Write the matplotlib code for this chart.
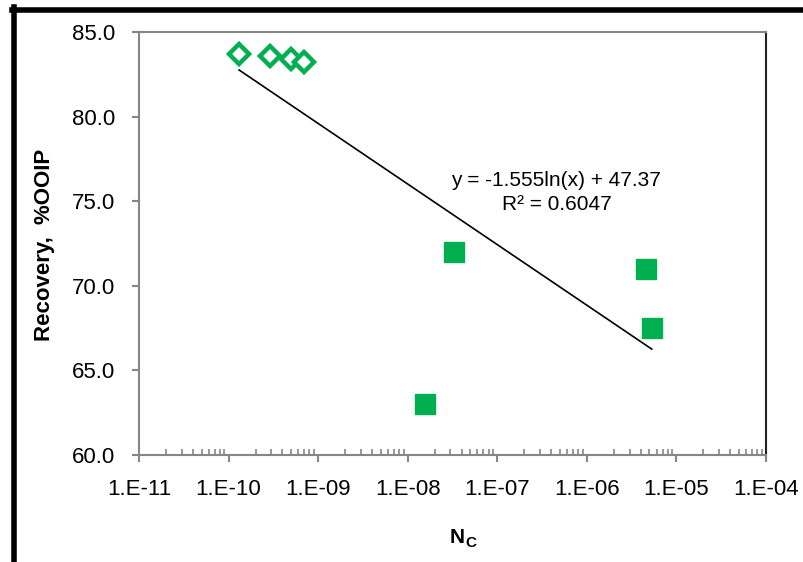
import numpy as np
import matplotlib
matplotlib.use("Agg")
import matplotlib.pyplot as plt
from matplotlib.lines import Line2D
from matplotlib.ticker import LogLocator, FixedLocator

plt.rcParams["font.family"] = ["Liberation Sans", "DejaVu Sans"]

# Open diamonds (low capillary number runs)
nc_open = [1.31e-10, 2.9e-10, 4.97e-10, 6.95e-10]
rec_open = [83.7, 83.6, 83.4, 83.2]

# Filled squares
nc_filled = [3.28e-8, 1.56e-8, 4.55e-6, 5.3e-6]
rec_filled = [72.0, 63.0, 71.0, 67.5]

# Log trendline fitted through all points
slope, intercept = -1.555, 47.37
r2 = 0.6047

y_ticks = [60, 65, 70, 75, 80, 85]
x_exps = list(range(-11, -3))

green = "#00B050"
grey = "#868686"
W, H = 804, 562

fig = plt.figure(figsize=(W / 100, H / 100), dpi=100)
ax = fig.add_axes([139 / W, 1 - 455 / H, 627 / W, 423 / H])

nc_all = nc_open + nc_filled
xt = np.logspace(np.log10(min(nc_all)), np.log10(max(nc_all)), 200)
ax.plot(xt, slope * np.log(xt) + intercept, color="black", lw=1.2, zorder=2)

ax.plot(nc_open, rec_open, linestyle="none", marker="D", ms=10, mfc="white",
        mec=green, mew=3.2, zorder=3)
ax.plot(nc_filled, rec_filled, linestyle="none", marker="s", ms=14, mfc=green,
        mec=green, zorder=3)

ax.set_xscale("log")
ax.set_xlim(1e-11, 1e-4)
ax.set_ylim(60, 85)
ax.set_yticks(y_ticks)
ax.set_yticklabels([f"{v:.1f}" for v in y_ticks])
ax.xaxis.set_major_locator(FixedLocator([10.0 ** e for e in x_exps]))
ax.set_xticklabels([f"1.E-{abs(e):02d}" for e in x_exps])
ax.xaxis.set_minor_locator(LogLocator(base=10, subs=np.arange(2, 10), numticks=20))

ax.tick_params(axis="both", which="major", labelsize=16, color=grey, width=1.5,
               length=5, direction="out")
ax.tick_params(axis="x", which="major", pad=12)
ax.tick_params(axis="y", which="major", pad=12)
ax.tick_params(axis="x", which="minor", direction="in", length=4, width=1.2,
               color=grey)

for side in ["left", "bottom", "top"]:
    ax.spines[side].set_color(grey)
    ax.spines[side].set_linewidth(1.5)
ax.spines["right"].set_color("#222222")
ax.spines["right"].set_linewidth(1.5)

# Trendline equation
fig.text(556 / W, 1 - 181 / H, f"y = {slope}ln(x) + {intercept}", fontsize=15,
         ha="center", va="center")
fig.text(557 / W, 1 - 205 / H, f"R² = {r2}", fontsize=15, ha="center", va="center")

# Axis titles
fig.text(45 / W, 1 - 245 / H, "Recovery,  %OOIP", fontsize=16, fontweight="bold",
         rotation=90, ha="center", va="center")
fig.text(450 / W, 1 - 543 / H, "N", fontsize=15, fontweight="bold",
         ha="left", va="baseline")
fig.text(465 / W, 1 - 547 / H, "C", fontsize=11, fontweight="bold",
         ha="left", va="baseline")

# Black frame around the chart (top and left edges)
fig.add_artist(Line2D([12 / W, 1.0], [1 - 9.5 / H, 1 - 9.5 / H], color="black",
                      lw=4, transform=fig.transFigure))
fig.add_artist(Line2D([14.5 / W, 14.5 / W], [1 - 7 / H, 0.0], color="black",
                      lw=4, transform=fig.transFigure))

fig.savefig("out.png", dpi=100)
